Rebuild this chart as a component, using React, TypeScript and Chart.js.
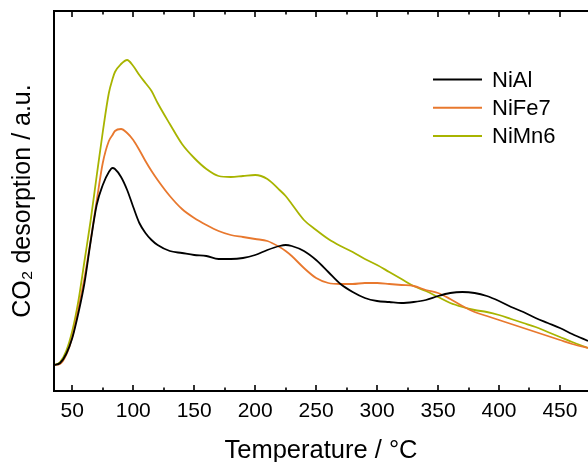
import React, { useEffect, useRef } from "react";
import { Chart, registerables } from "chart.js";

Chart.register(...registerables);

const temps = [35, 40, 45, 50, 55, 60, 65, 70, 75, 80, 83, 85, 90, 95, 100, 105, 110, 115, 120, 130, 140, 150, 160, 170, 180, 190, 200, 210, 220, 225, 230, 240, 250, 260, 270, 280, 290, 300, 310, 320, 330, 340, 350, 360, 370, 380, 390, 400, 410, 420, 430, 440, 450, 460, 473];

const niAl = [26, 28, 37, 53, 78, 108, 149, 186, 206, 219, 223, 222, 214, 201, 184, 168, 158, 151, 146, 140, 138, 136, 135, 132, 132, 133, 136, 141, 145, 146, 145, 140, 131, 119, 107, 99, 93, 90, 89, 88, 89, 91, 95, 98, 99, 98, 95, 90, 84, 79, 73, 68, 63, 57, 50];

const niFe7 = [26, 27, 36, 54, 82, 113, 150, 190, 228, 250, 256, 260, 262, 258, 251, 241, 230, 220, 211, 195, 182, 173, 166, 160, 156, 154, 152, 150, 144, 140, 135, 123, 113, 108, 107, 107, 108, 108, 107, 106, 105, 101, 98, 92, 85, 79, 75, 71, 67, 63, 59, 55, 51, 47, 43];

const niMn6 = [26, 29, 40, 60, 90, 130, 170, 215, 259, 298, 312, 319, 327, 331, 325, 316, 308, 300, 288, 267, 247, 233, 222, 215, 214, 215, 216, 212, 201, 195, 187, 171, 161, 152, 145, 139, 132, 126, 119, 112, 105, 100, 94, 88, 84, 81, 79, 76, 72, 68, 64, 59, 54, 49, 43];

const seriesNames = ["NiAl", "NiFe7", "NiMn6"];
const seriesColors = ["#000000", "#E8782E", "#A8B400"];

const xMajorTicks = [50, 100, 150, 200, 250, 300, 350, 400, 450];
const xMinorTicks = [75, 125, 175, 225, 275, 325, 375, 425];

const X_MIN = 35;
const X_MAX = 473;
const Y_MIN = 0;
const Y_MAX = 380;

const FONT = "'Liberation Sans', Arial, Helvetica, sans-serif";

const framePlugin = {
  id: "frameTicks",
  afterDatasetsDraw(chart: any) {
    const { ctx, chartArea, scales } = chart;
    const xs = scales.x;
    const { left, right, top, bottom } = chartArea;
    ctx.save();
    ctx.strokeStyle = "#000";
    ctx.lineWidth = 2;
    ctx.beginPath();
    ctx.moveTo(left, top);
    ctx.lineTo(right + 2, top);
    ctx.moveTo(left, top - 1);
    ctx.lineTo(left, bottom + 1);
    ctx.moveTo(left - 1, bottom);
    ctx.lineTo(right + 2, bottom);
    ctx.stroke();
    ctx.lineWidth = 1.6;
    ctx.beginPath();
    xMajorTicks.forEach((v) => {
      const px = Math.round(xs.getPixelForValue(v));
      ctx.moveTo(px, top);
      ctx.lineTo(px, top + 6);
      ctx.moveTo(px, bottom);
      ctx.lineTo(px, bottom - 6);
    });
    xMinorTicks.forEach((v) => {
      const px = Math.round(xs.getPixelForValue(v));
      ctx.moveTo(px, top);
      ctx.lineTo(px, top + 3.5);
      ctx.moveTo(px, bottom);
      ctx.lineTo(px, bottom - 3.5);
    });
    ctx.stroke();

    // legend
    const lx0 = 433;
    const lx1 = 482;
    const ly0 = 79.5;
    const dy = 28.2;
    ctx.font = `22px ${FONT}`;
    ctx.textBaseline = "middle";
    ctx.textAlign = "left";
    chart.data.datasets.forEach((ds: any, i: number) => {
      const y = ly0 + i * dy;
      ctx.strokeStyle = ds.borderColor;
      ctx.lineWidth = 2;
      ctx.beginPath();
      ctx.moveTo(lx0, y);
      ctx.lineTo(lx1, y);
      ctx.stroke();
      ctx.fillStyle = "#000";
      ctx.fillText(ds.label, 492, y + 1);
    });
    ctx.restore();
  },
};

export default function App() {
  const ref = useRef<HTMLCanvasElement | null>(null);

  useEffect(() => {
    if (!ref.current) return;
    const series = [niAl, niFe7, niMn6];
    const chart = new Chart(ref.current, {
      type: "line",
      data: {
        datasets: series.map((vals, i) => ({
          label: seriesNames[i],
          data: temps.map((t, j) => ({ x: t, y: vals[j] })),
          borderColor: seriesColors[i],
          backgroundColor: seriesColors[i],
          borderWidth: 1.8,
          pointRadius: 0,
          cubicInterpolationMode: "monotone" as const,
          fill: false,
        })),
      },
      options: {
        responsive: false,
        animation: false,
        layout: { padding: { top: 11, right: 0, left: 0, bottom: 0 } },
        plugins: {
          legend: { display: false },
          tooltip: { enabled: false },
        },
        scales: {
          x: {
            type: "linear",
            min: X_MIN,
            max: X_MAX,
            grid: { display: false, drawTicks: false },
            border: { display: false },
            afterBuildTicks: (scale: any) => {
              scale.ticks = xMajorTicks.map((v) => ({ value: v }));
            },
            afterFit: (scale: any) => {
              scale.height = 71;
            },
            ticks: {
              color: "#000",
              padding: 8,
              maxRotation: 0,
              autoSkip: false,
              font: { family: FONT, size: 21 },
            },
            title: {
              display: true,
              text: "Temperature / °C",
              color: "#000",
              font: { family: FONT, size: 25.5, lineHeight: 0.8 },
              padding: { top: 0, bottom: 1 },
            },
          },
          y: {
            type: "linear",
            min: Y_MIN,
            max: Y_MAX,
            grid: { display: false, drawTicks: false },
            border: { display: false },
            ticks: { display: false },
            afterFit: (scale: any) => {
              scale.width = 54;
            },
            title: {
              display: true,
              text: "CO₂ desorption / a.u.",
              color: "#000",
              font: { family: FONT, size: 25, lineHeight: 0.8 },
              padding: { top: 13, bottom: 0 },
            },
          },
        },
      },
      plugins: [framePlugin],
    });
    return () => chart.destroy();
  }, []);

  return (
    <div style={{ position: "fixed", left: 0, top: 0, width: 588, height: 462, background: "#fff" }}>
      <canvas ref={ref} width={588} height={462} style={{ display: "block", width: 588, height: 462 }} />
    </div>
  );
}
